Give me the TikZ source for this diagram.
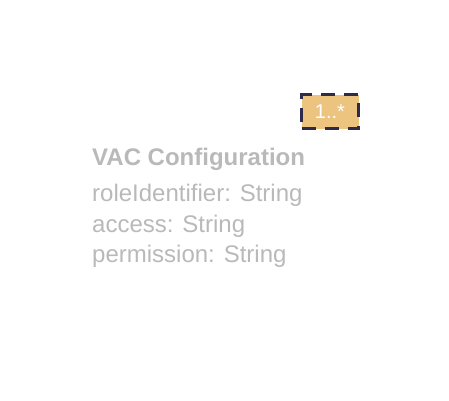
\documentclass[tikz,border=0pt]{standalone}
\usepackage{fontspec}
\setmainfont{Liberation Sans}
\usepackage{tikz}
\usetikzlibrary{positioning}

\definecolor{multfill}{RGB}{236,196,128}
\definecolor{multedge}{RGB}{45,42,74}
\definecolor{txtgray}{RGB}{185,185,185}

\tikzset{
  attr/.style={anchor=base west,inner sep=0pt,text=txtgray,font=\fontsize{24}{24}\selectfont},
  multbox/.style={draw=multedge,fill=multfill,line width=2.6pt,dash pattern=on 14pt off 9pt,
    minimum width=57pt,minimum height=34pt,text=white,font=\fontsize{20}{20}\selectfont}
}

\begin{document}
\begin{tikzpicture}[x=1pt,y=1pt]
\useasboundingbox (0,0) rectangle (449,400);
\node[draw=white,minimum width=256pt,minimum height=165pt,inner sep=0pt] (cls) at (201,205.5) {};
\node[attr,font=\fontsize{24}{24}\selectfont\bfseries] (title) at (92,235) {VAC Configuration};
\node[attr] (role) at (92,199) {roleIdentifier: String};
\node[attr] (access) at (92,168) {access: String};
\node[attr] (perm) at (92,138) {permission: String};
% multiplicity label
\node[multbox] (mult) at (330,288.5) {1..*};
\end{tikzpicture}
\end{document}
